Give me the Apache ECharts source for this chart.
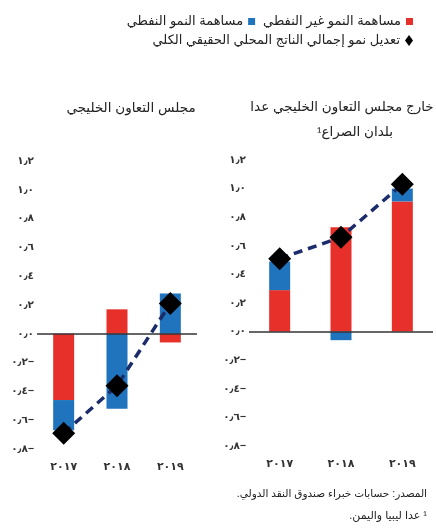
<!DOCTYPE html>
<html>
<head>
<meta charset="utf-8">
<script src="https://cdn.jsdelivr.net/npm/echarts@6/dist/echarts.min.js"></script>
<style>
html,body{margin:0;padding:0;background:#fff;}
#chart{width:436px;height:532px;}
</style>
</head>
<body>
<div id="chart"></div>
<script>
// ---- data ----
var years = ['2017', '2018', '2019'];
var gccNonOil = [-0.46, 0.17, -0.06];
var gccOil = [-0.21, -0.52, 0.28];
var gccTotal = [-0.69, -0.36, 0.21];
var nonGccNonOil = [0.29, 0.73, 0.91];
var nonGccOil = [0.20, -0.06, 0.09];
var nonGccTotal = [0.51, 0.66, 1.03];
var yTicks = [-0.8, -0.6, -0.4, -0.2, 0.0, 0.2, 0.4, 0.6, 0.8, 1.0, 1.2];

var nameNonOil = 'مساهمة النمو غير النفطي';
var nameOil = 'مساهمة النمو النفطي';
var nameTotal = 'تعديل نمو إجمالي الناتج المحلي الحقيقي الكلي';
var titleGcc = 'مجلس التعاون الخليجي';
var titleNonGcc1 = 'خارج مجلس التعاون الخليجي عدا';
var titleNonGcc2 = 'بلدان الصراع\u00B9';
var sourceText = 'المصدر: حسابات خبراء صندوق النقد الدولي.\u200F';
var noteText = '\u200F\u00B9 عدا ليبيا واليمن.\u200F';

var RED = '#e8302a', BLUE = '#1f74bd', NAVY = '#1c2c6a';
var FONT = 'Liberation Sans, DejaVu Sans, sans-serif';

function toArabicDigits(s) {
  var d = '٠١٢٣٤٥٦٧٨٩';
  return s.replace(/[0-9]/g, function (c) { return d[+c]; });
}
function yFmt(v) {
  var neg = v < -1e-9;
  var s = Math.abs(v).toFixed(1).replace('.', '٫');
  return toArabicDigits(s) + (neg ? '−' : '');
}
function xFmt(v) { return toArabicDigits(v); }

var chart = echarts.init(document.getElementById('chart'));

function yAxis(grid) {
  return {
    type: 'value', gridIndex: grid, min: yTicks[0], max: yTicks[yTicks.length - 1], interval: 0.2,
    axisLine: {show: false}, axisTick: {show: false}, splitLine: {show: false},
    axisLabel: {formatter: yFmt, color: '#333', fontSize: 10.5, fontWeight: 'bold', margin: 3, fontFamily: FONT}
  };
}
function xAxis(grid) {
  return {
    type: 'category', gridIndex: grid, data: years,
    axisLine: {show: false}, axisTick: {show: false},
    axisLabel: {formatter: xFmt, color: '#333', fontSize: 11, fontWeight: 'bold', margin: 12, fontFamily: FONT}
  };
}
var zeroLine = {
  silent: true, symbol: 'none', label: {show: false},
  lineStyle: {color: '#333', width: 1.5, type: 'solid'},
  emphasis: {disabled: true},
  data: [{yAxis: 0}]
};
function barSeries(name, data, color, grid, withZero) {
  var s = {
    name: name, type: 'bar', stack: 'g' + grid, data: data,
    xAxisIndex: grid, yAxisIndex: grid,
    barWidth: 21,
    itemStyle: {color: color}
  };
  if (withZero) s.markLine = zeroLine;
  return s;
}
function lineSeries(data, grid) {
  return {
    name: nameTotal, type: 'line', data: data, xAxisIndex: grid, yAxisIndex: grid,
    symbol: 'diamond', symbolSize: 23, z: 5,
    lineStyle: {color: NAVY, width: 3.5, type: [9, 6]},
    itemStyle: {color: '#000'}
  };
}

chart.setOption({
  animation: false,
  textStyle: {fontFamily: FONT},
  grid: [
    {left: 37, width: 160, top: 161, height: 288},
    {left: 249, width: 184, top: 160, height: 286}
  ],
  xAxis: [xAxis(0), xAxis(1)],
  yAxis: [yAxis(0), yAxis(1)],
  legend: [
    {
      right: 18, top: 10, align: 'right', itemGap: 8, itemWidth: 7, itemHeight: 7,
      textStyle: {fontSize: 13, color: '#222', fontFamily: FONT},
      data: [{name: nameOil, icon: 'rect'}, {name: nameNonOil, icon: 'rect'}]
    },
    {
      right: 18, top: 29, align: 'right', itemWidth: 8, itemHeight: 11,
      textStyle: {fontSize: 13, color: '#222', fontFamily: FONT},
      data: [{name: nameTotal, icon: 'diamond'}]
    }
  ],
  title: [
    {text: titleGcc, left: 126, top: 96, textAlign: 'center',
     textStyle: {fontSize: 13.5, fontWeight: 'normal', color: '#222', fontFamily: FONT}},
    {text: titleNonGcc1, left: 337, top: 95, textAlign: 'center',
     textStyle: {fontSize: 13.5, fontWeight: 'normal', color: '#222', fontFamily: FONT}},
    {text: titleNonGcc2, left: 350, top: 120, textAlign: 'center',
     textStyle: {fontSize: 13.5, fontWeight: 'normal', color: '#222', fontFamily: FONT}},
    {text: sourceText, right: 4, top: 484,
     textStyle: {fontSize: 10.5, fontWeight: 'normal', color: '#222', fontFamily: FONT}},
    {text: noteText, right: 4, top: 505,
     textStyle: {fontSize: 11, fontWeight: 'normal', color: '#222', fontFamily: FONT}}
  ],
  series: [
    barSeries(nameNonOil, gccNonOil, RED, 0, true),
    barSeries(nameOil, gccOil, BLUE, 0, false),
    lineSeries(gccTotal, 0),
    barSeries(nameNonOil, nonGccNonOil, RED, 1, true),
    barSeries(nameOil, nonGccOil, BLUE, 1, false),
    lineSeries(nonGccTotal, 1)
  ]
});
</script>
</body>
</html>
